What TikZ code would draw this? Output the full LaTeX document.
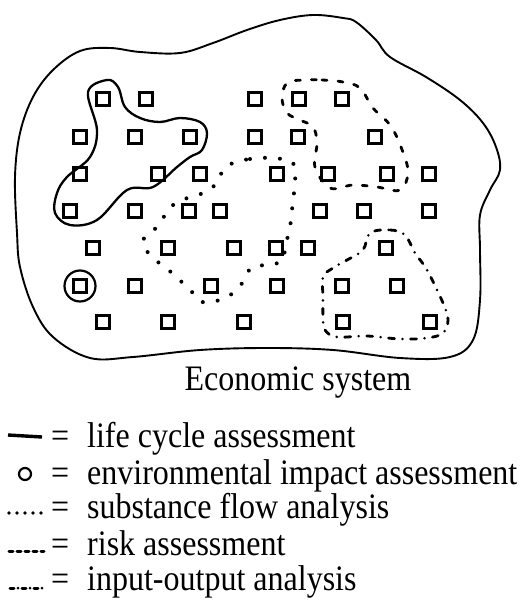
\documentclass[tikz,border=0pt]{standalone}
\usepackage{fontspec}
\setmainfont{Liberation Serif}
\newcommand{\tallt}[1]{\scalebox{1}[1.12]{#1}}
\begin{document}
\begin{tikzpicture}[x=1pt,y=-1pt,
  sq/.style={draw,line width=3pt,minimum size=13.5pt,inner sep=0pt},
  blob/.style={line width=1.9pt,line join=round},
  lca/.style={line width=2.3pt,line join=round},
  sfa/.style={line width=4pt,line cap=round,dash pattern=on 0pt off 15pt},
  risk/.style={line width=2.8pt,line cap=round,dash pattern=on 5pt off 11pt},
  ioa/.style={line width=2.8pt,line cap=round,dash pattern=on 6pt off 8pt on 0pt off 8pt},
  lbl/.style={font=\fontsize{32}{32}\selectfont,inner sep=0pt,anchor=base west}]
\useasboundingbox (0,0) rectangle (523,601);
% squares
\foreach \yy/\xs [count=\r] in {99/{103,146,255,299,342},
  137/{80,135,190,255,298,375},
  174/{80,158,200,277,328,387,429},
  211/{70,135,189,220,320,364,429},
  248/{93,168,234,276,308,386},
  286/{80,135,211,277,342,397},
  322/{103,168,244,343,430}}{
  \foreach \xx [count=\c] in \xs {\node[sq] (s\r-\c) at (\xx,\yy) {};}
}
% economic system boundary
\draw[blob] plot[smooth cycle,tension=0.6] coordinates{
 (80,51) (110,48) (140,52) (180,53) (213,43) (247,30) (280,20) (313,15) (343,18)
 (356,22) (376,40) (390,57) (426,77) (460,100) (483,123) (496,147) (500,170)
 (490,190) (480,215) (480,250)
 (480,300) (473,340) (450,357) (400,358) (333,350) (267,348) (200,350) (133,357)
 (90,358) (53,337) (33,307) (20,267) (17,233) (15,177) (20,133) (33,97) (53,70)};
% life cycle assessment
\draw[lca] plot[smooth cycle,tension=0.6] coordinates{
 (107,80) (118,87) (125,107) (140,118) (160,122) (180,118) (200,122) (207,133)
 (202,150) (190,157) (177,167) (153,187) (127,190) (97,220) (70,225) (55,213)
 (57,193) (67,177) (90,157) (97,130) (88,92)};
% environmental impact assessment
\node[draw,circle,line width=2.2pt,minimum size=31pt,inner sep=0pt] (eia) at (s6-1) {};
% substance flow analysis
\draw[sfa] plot[smooth cycle,tension=0.6] coordinates{
 (233,163) (250,159) (272,158) (293,163) (295,183) (293,200) (290,227) (285,247)
 (283,260) (270,265) (252,267) (243,282) (233,293) (220,300) (202,302) (192,292)
 (172,273) (150,255) (143,240) (157,227) (170,208) (182,200) (203,193) (217,183)
 (223,170)};
% risk assessment
\draw[risk] plot[smooth cycle,tension=0.6] coordinates{
 (303,80) (322,80) (343,82) (360,88) (373,108) (390,125) (401,147) (408,172)
 (400,190) (377,187) (353,185) (330,188) (315,167) (317,143) (313,127) (300,120)
 (287,113) (282,98) (287,83)};
% input-output analysis
\draw[ioa] plot[smooth cycle,tension=0.6] coordinates{
 (370,233) (390,230) (405,235) (415,253) (427,270) (443,303) (448,320) (443,333)
 (427,338) (400,339) (367,336) (337,337) (325,330) (323,317) (323,297) (323,277)
 (333,268) (347,260) (363,250)};
% caption
\node[lbl,anchor=base] (cap) at (298,390) {\tallt{Economic system}};
% legend
\coordinate (l1a) at (8,435); \coordinate (l1b) at (42,437);
\draw[line width=3.4pt] (l1a) -- (l1b);
\node[draw,circle,line width=2.2pt,minimum size=12pt,inner sep=0pt] (l2) at (25,474) {};
\coordinate (l3a) at (9,513); \coordinate (l3b) at (41,513);
\draw[line width=3.6pt,line cap=round,dash pattern=on 0pt off 8pt] (l3a) -- (l3b);
\coordinate (l4a) at (9,551); \coordinate (l4b) at (44,551);
\draw[line width=3pt,line cap=round,dash pattern=on 4pt off 4pt] (l4a) -- (l4b);
\coordinate (l5a) at (10,588); \coordinate (l5b) at (42,588);
\draw[line width=3pt,line cap=round,dash pattern=on 4pt off 4pt on 0pt off 4pt] (l5a) -- (l5b);
\foreach \yy/\tt [count=\i] in {447/life cycle assessment,484/environmental impact assessment,
  518/substance flow analysis,555/risk assessment,590/input-output analysis}{
  \node[lbl] (eq\i) at (51,\yy) {\tallt{=}};
  \node[lbl] (t\i) at (87,\yy) {\tallt{\tt}};
}
\end{tikzpicture}
\end{document}
